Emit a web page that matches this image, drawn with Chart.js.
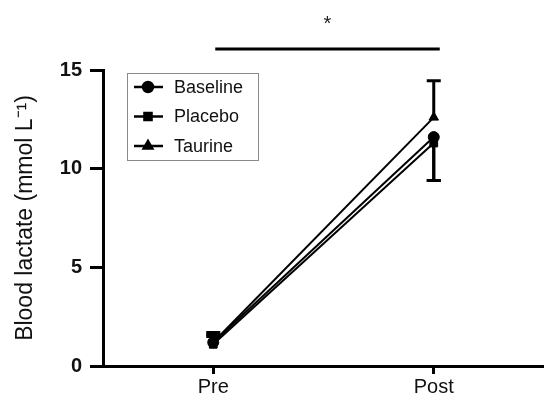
<!DOCTYPE html>
<html>
<head>
<meta charset="utf-8">
<script src="https://cdn.jsdelivr.net/npm/chart.js@4"></script>
<style>
body{margin:0;background:#fff}
</style>
</head>
<body>
<canvas id="ChartHTML" width="544" height="405"></canvas>
<script>
const LABELS=['Pre','Post']
const SERIES=['Baseline','Placebo','Taurine']
const BASELINE=[1.2,11.6]
const PLACEBO=[1.1,11.3]
const TAURINE=[1.2,12.6]
// error bars (one-sided like the original figure)
const BASELINE_UP=[0.5,0]
const BASELINE_DOWN=[0,2.2]
const PLACEBO_UP=[0.4,0]
const PLACEBO_DOWN=[0,1.9]
const TAURINE_UP=[0.4,1.85]
const TAURINE_DOWN=[0,0]
const Y_TICKS=[0,5,10,15]
const POINTSTYLES=['circle','rect','triangle']

const FONT='"Liberation Sans", Arial, sans-serif'

const errorBarPlugin={
 id:'errbars',
 afterDatasetsDraw(chart){
  const ctx=chart.ctx,y=chart.scales.y
  ctx.save();ctx.strokeStyle='#000';ctx.lineWidth=3
  chart.data.datasets.forEach((ds,i)=>{
   const meta=chart.getDatasetMeta(i)
   meta.data.forEach((pt,j)=>{
    const v=ds.data[j]
    const top=y.getPixelForValue(v+ds.errUp[j]),bot=y.getPixelForValue(v-ds.errDown[j])
    if(top===bot)return
    ctx.beginPath();ctx.moveTo(pt.x,top);ctx.lineTo(pt.x,bot)
    if(ds.errUp[j]>0){ctx.moveTo(pt.x-7,top);ctx.lineTo(pt.x+7,top)}
    if(ds.errDown[j]>0){ctx.moveTo(pt.x-7,bot);ctx.lineTo(pt.x+7,bot)}
    ctx.stroke()
   })
  })
  ctx.restore()
 }
}

const extrasPlugin={
 id:'extras',
 afterDraw(chart){
  const ctx=chart.ctx,x=chart.scales.x,a=chart.chartArea
  ctx.save()
  // significance bar
  const x1=x.getPixelForValue(0)+2,x2=x.getPixelForValue(1)+6
  ctx.strokeStyle='#000';ctx.lineWidth=3
  ctx.beginPath();ctx.moveTo(x1,a.top-21);ctx.lineTo(x2,a.top-21);ctx.stroke()
  ctx.fillStyle='#222';ctx.font='20px '+FONT;ctx.textAlign='center';ctx.textBaseline='middle'
  ctx.fillText('*',(x1+x2)/2,a.top-46)
  // legend box
  const lx=127,ly=73
  ctx.strokeStyle='#8a8a8a';ctx.lineWidth=1
  ctx.strokeRect(lx+0.5,ly+0.5,131,87)
  chart.data.datasets.forEach((ds,i)=>{
   const cy=ly+14+i*29.5
   ctx.strokeStyle='#000';ctx.lineWidth=2.5
   ctx.beginPath();ctx.moveTo(lx+7,cy);ctx.lineTo(lx+36,cy);ctx.stroke()
   Chart.helpers.drawPoint(ctx,{pointStyle:ds.pointStyle,radius:5,rotation:0,borderWidth:1},lx+21,cy)
   ctx.fillStyle='#000';ctx.fill()
   ctx.fillStyle='#111';ctx.font='18px '+FONT;ctx.textAlign='left'
   ctx.fillText(ds.label,lx+47,cy+1)
  })
  ctx.restore()
 }
}

function makeSet(label,data,up,down,i){
 return {label:label,data:data,errUp:up,errDown:down,borderColor:'#000',backgroundColor:'#000',
  borderWidth:2,pointStyle:POINTSTYLES[i],pointRadius:5.5,pointBorderWidth:1,tension:0,clip:false}
}

let Chart1
function LoadC1(){
 Chart1=new Chart(document.getElementById('ChartHTML'),{
  type:'line',
  data:{labels:LABELS,datasets:[
   makeSet(SERIES[0],BASELINE,BASELINE_UP,BASELINE_DOWN,0),
   makeSet(SERIES[1],PLACEBO,PLACEBO_UP,PLACEBO_DOWN,1),
   makeSet(SERIES[2],TAURINE,TAURINE_UP,TAURINE_DOWN,2)
  ]},
  options:{
   responsive:false,animation:false,
   layout:{autoPadding:false,padding:{top:70,right:0,left:0,bottom:0}},
   plugins:{legend:{display:false},tooltip:{enabled:false}},
   scales:{
    x:{offset:true,
     border:{display:true,width:3,color:'#000'},
     grid:{display:true,drawOnChartArea:false,offset:false,tickLength:8,tickWidth:3,color:'#000'},
     ticks:{color:'#111',font:{family:FONT,size:20},padding:1},
     afterFit(s){s.height=39}
    },
    y:{min:0,max:15,
     afterBuildTicks(s){s.ticks=Y_TICKS.map(v=>({value:v}))},
     border:{display:true,width:3,color:'#000'},
     grid:{display:true,drawOnChartArea:false,tickLength:13,tickWidth:3,color:'#000'},
     ticks:{color:'#111',font:{family:FONT,size:20,weight:'bold'},padding:8},
     title:{display:true,text:'Blood lactate (mmol L\u207B\u00B9)',color:'#111',font:{family:FONT,size:23},padding:{top:12,bottom:0}},
     afterFit(s){s.width=103}
    }
   }
  },
  plugins:[errorBarPlugin,extrasPlugin]
 })
}
LoadC1()
</script>
</body>
</html>
